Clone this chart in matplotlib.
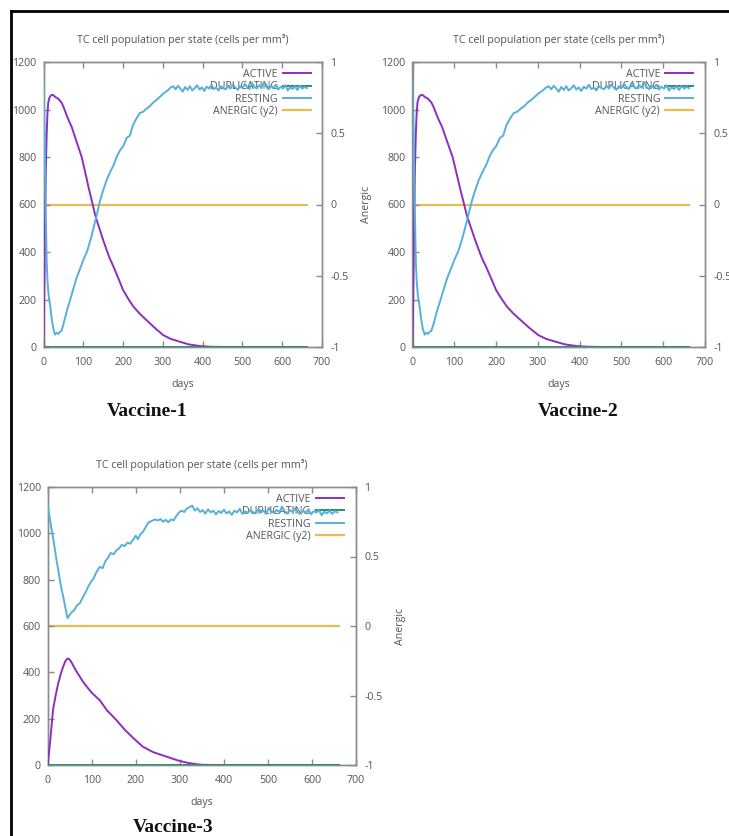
import matplotlib
matplotlib.use("Agg")
import matplotlib.pyplot as plt
from matplotlib.lines import Line2D

plt.rcParams['font.family'] = ['Open Sans', 'DejaVu Sans']

# ---------------- data ----------------
# Vaccine-1 (Vaccine-2 shows the same dynamics)
ACTIVE_V1_DAYS = [0, 2, 4, 6, 8, 10, 12, 15, 18, 22,
                  25, 30, 35, 40, 45, 50, 55, 60, 65, 71,
                  78, 85, 90, 96, 102, 108, 113, 120, 125, 130,
                  136, 142, 150, 158, 166, 176, 188, 200, 213, 226,
                  242, 259, 280, 301, 320, 343, 365, 393, 420, 460,
                  520, 580, 662]
ACTIVE_V1 = [0, 250, 520, 760, 900, 985, 1030, 1050, 1058, 1062,
             1060, 1052, 1048, 1040, 1030, 1012, 990, 968, 948, 926,
             890, 855, 830, 800, 756, 712, 674, 625, 590, 555,
             522, 492, 450, 412, 375, 338, 290, 240, 203, 170,
             140, 113, 80, 50, 34, 22, 11, 4, 1, 0,
             0, 0, 0]

RESTING_V1_DAYS = [0, 2, 4, 6, 8, 10, 13, 17, 21, 25,
                   29, 33, 37, 41, 45, 50, 55, 60, 67, 75,
                   83, 92, 100, 110, 120, 133, 142, 150, 158, 167,
                   176, 185, 193, 200, 209, 217, 225, 233, 242, 250,
                   260, 268, 276, 284, 292, 299, 305, 312, 319, 326,
                   332, 338, 344, 350, 356, 362, 368, 374, 380, 386,
                   392, 398, 404, 410, 416, 422, 428, 434, 440, 446,
                   452, 458, 464, 470, 476, 482, 488, 494, 500, 506,
                   512, 518, 524, 530, 536, 542, 548, 554, 560, 566,
                   572, 578, 584, 590, 596, 602, 608, 614, 620, 626,
                   632, 638, 644, 650, 656, 662]
RESTING_V1 = [1120, 960, 760, 540, 360, 280, 215, 170, 115, 75,
              52, 60, 55, 64, 68, 95, 128, 160, 198, 245,
              290, 330, 366, 405, 462, 550, 615, 660, 700, 735,
              765, 805, 830, 845, 880, 890, 935, 960, 985, 990,
              1005, 1015, 1030, 1040, 1052, 1064, 1072, 1080, 1092, 1098,
              1085, 1100, 1088, 1075, 1095, 1082, 1098, 1080, 1090, 1102,
              1084, 1093, 1078, 1096, 1088, 1104, 1086, 1092, 1080, 1098,
              1090, 1085, 1100, 1088, 1106, 1092, 1083, 1098, 1090, 1108,
              1094, 1086, 1112, 1096, 1088, 1102, 1092, 1115, 1095, 1085,
              1100, 1090, 1105, 1084, 1096, 1088, 1102, 1080, 1094, 1086,
              1098, 1082, 1100, 1088, 1095, 1090]

# Vaccine-3
ACTIVE_V3_DAYS = [0, 6, 12, 18, 24, 30, 35, 40, 45, 50,
                  55, 60, 66, 73, 80, 90, 100, 118, 135, 156,
                  175, 195, 216, 240, 270, 295, 316, 335, 350, 380,
                  662]
ACTIVE_V3 = [0, 110, 237, 300, 353, 395, 424, 448, 460, 455,
             440, 422, 402, 381, 360, 335, 312, 280, 235, 194,
             152, 115, 79, 55, 36, 20, 10, 4, 1, 0,
             0]

RESTING_V3_DAYS = [0, 4, 8, 12, 16, 20, 24, 28, 32, 36,
                   40, 45, 50, 55, 60, 66, 73, 80, 86, 92,
                   98, 104, 110, 118, 125, 131, 137, 143, 150, 156,
                   162, 168, 175, 181, 187, 193, 200, 205, 210, 216,
                   222, 228, 234, 239, 245, 250, 256, 262, 268, 274,
                   280, 286, 292, 298, 304, 310, 316, 322, 328, 334,
                   340, 346, 352, 358, 364, 370, 376, 382, 388, 394,
                   400, 406, 412, 418, 424, 430, 436, 442, 448, 454,
                   460, 466, 472, 478, 484, 490, 496, 502, 508, 514,
                   520, 526, 532, 538, 544, 550, 556, 562, 568, 574,
                   580, 586, 592, 598, 604, 610, 616, 622, 628, 634,
                   640, 646, 652, 658]
RESTING_V3 = [1121, 1075, 1025, 984, 935, 885, 840, 795, 755, 720,
              680, 634, 648, 660, 668, 688, 698, 725, 745, 770,
              790, 805, 830, 855, 850, 880, 895, 915, 910, 927,
              935, 950, 945, 960, 955, 970, 990, 975, 995, 1006,
              1025, 1045, 1052, 1056, 1060, 1055, 1062, 1050, 1058, 1048,
              1060, 1056, 1075, 1090, 1098, 1092, 1108, 1112, 1120, 1098,
              1108, 1092, 1100, 1085, 1104, 1090, 1098, 1082, 1096, 1088,
              1102, 1086, 1094, 1080, 1098, 1090, 1106, 1084, 1095, 1088,
              1100, 1092, 1086, 1104, 1090, 1098, 1084, 1110, 1094, 1088,
              1102, 1090, 1115, 1096, 1086, 1100, 1092, 1108, 1090, 1084,
              1098, 1088, 1104, 1082, 1096, 1090, 1100, 1078, 1094, 1086,
              1098, 1084, 1096, 1090]

# duplicating cells and anergic fraction stay flat at zero
FLAT_DAYS = [0, 662]
DUPLICATING = [0, 0]
ANERGIC = [0, 0]

LABELS = ["ACTIVE", "DUPLICATING", "RESTING", "ANERGIC (y2)"]
PANEL_NAMES = ["Vaccine-1", "Vaccine-2", "Vaccine-3"]
X_TICKS = [0, 100, 200, 300, 400, 500, 600, 700]
Y_TICKS = [0, 200, 400, 600, 800, 1000, 1200]
Y2_TICKS = [-1, -0.5, 0, 0.5, 1]
Y2_TICK_LABELS = ["-1", "-0.5", "0", "0.5", "1"]

# ---------------- styling ----------------
C_ACTIVE = "#8b2fbf"
C_DUP = "#2a8f70"
C_REST = "#56b0da"
C_ANERGIC = "#e8bc55"
C_AXIS = "#8c8c8c"
C_TEXT = "#555555"
FS = 7.7

W, H = 729, 836
fig = plt.figure(figsize=(W / 100, H / 100), dpi=100)


def rect(left, top, right, bottom):
    return [left / W, 1 - bottom / H, (right - left) / W, (bottom - top) / H]


def panel(box, active_days, active, rest_days, rest, name, name_xy,
          y2_label=True):
    ax = fig.add_axes(rect(*box))
    ax2 = ax.twinx()
    ax.set_zorder(2)
    ax2.set_zorder(1)
    ax.patch.set_visible(False)

    l_act, = ax.plot(active_days, active, color=C_ACTIVE, lw=1.4, zorder=3)
    l_dup, = ax.plot(FLAT_DAYS, DUPLICATING, color=C_DUP, lw=1.4, zorder=3)
    l_rest, = ax.plot(rest_days, rest, color=C_REST, lw=1.4, zorder=3)
    l_an, = ax2.plot(FLAT_DAYS, ANERGIC, color=C_ANERGIC, lw=1.6)

    ax.set_xlim(0, 700)
    ax.set_ylim(0, 1200)
    ax2.set_ylim(-1, 1)
    ax.set_xticks(X_TICKS)
    ax.set_yticks(Y_TICKS)
    ax2.set_yticks(Y2_TICKS)
    ax2.set_yticklabels(Y2_TICK_LABELS)

    for a in (ax, ax2):
        for s in a.spines.values():
            s.set_color(C_AXIS)
            s.set_linewidth(1.0)
    ax.tick_params(axis="both", direction="in", length=4, width=1,
                   color=C_AXIS, labelcolor=C_TEXT, labelsize=FS,
                   top=True, right=False, pad=5)
    ax.tick_params(axis="x", pad=7)
    ax2.tick_params(axis="y", direction="in", length=4, width=1,
                    color=C_AXIS, labelcolor=C_TEXT, labelsize=FS, pad=6)

    ax.set_title("TC cell population per state (cells per mm³)",
                 fontsize=FS, color=C_TEXT, pad=14)
    ax.set_xlabel("days", fontsize=FS, color=C_TEXT, labelpad=8)
    if y2_label:
        ax2.set_ylabel("Anergic", fontsize=FS, color=C_TEXT, labelpad=9)

    leg = ax.legend([l_act, l_dup, l_rest, l_an], LABELS,
                    loc="upper right", bbox_to_anchor=(0.96, 0.975),
                    frameon=False, markerfirst=False, fontsize=FS,
                    handlelength=2.6, handletextpad=0.5,
                    labelspacing=0.12, borderaxespad=0, borderpad=0)
    for t in leg.get_texts():
        t.set_color(C_TEXT)
    leg.set_zorder(2.5)

    fig.text(name_xy[0] / W, 1 - name_xy[1] / H, name,
             ha="center", va="center", family="Liberation Serif",
             fontweight="bold", fontsize=14, color="#111111")


panel((43.5, 62, 322, 347), ACTIVE_V1_DAYS, ACTIVE_V1,
      RESTING_V1_DAYS, RESTING_V1, PANEL_NAMES[0], (147, 412))
panel((412.5, 62, 705, 347), ACTIVE_V1_DAYS, ACTIVE_V1,
      RESTING_V1_DAYS, RESTING_V1, PANEL_NAMES[1], (578, 412),
      y2_label=False)
panel((47.7, 487, 356, 765), ACTIVE_V3_DAYS, ACTIVE_V3,
      RESTING_V3_DAYS, RESTING_V3, PANEL_NAMES[2], (173, 827))

# outer frame
fig.add_artist(Line2D([11 / W, 11 / W], [0, 1 - 11 / H],
                      transform=fig.transFigure, color="black", lw=2))
fig.add_artist(Line2D([11 / W, 1], [1 - 11 / H, 1 - 11 / H],
                      transform=fig.transFigure, color="black", lw=2))

fig.savefig("out.png", dpi=100)
